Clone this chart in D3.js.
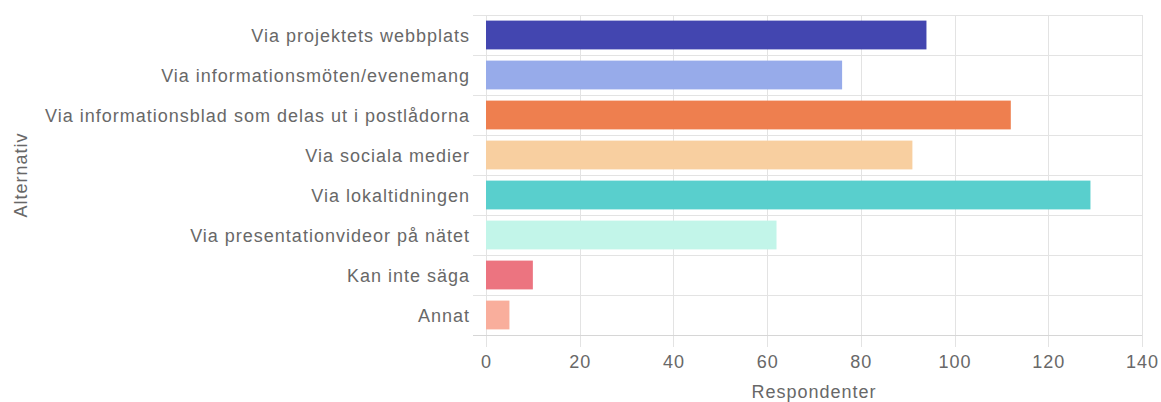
<!DOCTYPE html>
<html>
<head>
<meta charset="utf-8">
<script src="https://cdn.jsdelivr.net/npm/d3@7"></script>
<style>
  html, body { margin: 0; padding: 0; background: #fff; }
  svg { display: block; }
  text { font-family: "Liberation Sans", Arial, sans-serif; fill: #686868; font-size: 18px; letter-spacing: 1px; }
</style>
</head>
<body>
<svg id="chart" width="1161" height="402"></svg>
<script>
const categories = [
  "Via projektets webbplats",
  "Via informationsmöten/evenemang",
  "Via informationsblad som delas ut i postlådorna",
  "Via sociala medier",
  "Via lokaltidningen",
  "Via presentationvideor på nätet",
  "Kan inte säga",
  "Annat"
];
const values = [94, 76, 112, 91, 129, 62, 10, 5];
const colors = ["#4346B0", "#97ABEA", "#EE7F4F", "#F8CFA0", "#59CFCD", "#C2F5E9", "#EC7480", "#F9AE9C"];
const xTicks = [0, 20, 40, 60, 80, 100, 120, 140];
const xTitle = "Respondenter";
const yTitle = "Alternativ";

const svg = d3.select("#chart");
const plotLeft = 486, plotRight = 1142, plotTop = 15, plotBottom = 335;
const gridColor = "#e3e3e3";

const x = d3.scaleLinear().domain([0, 140]).range([plotLeft, plotRight]);
const band = d3.scaleBand().domain(categories).range([plotTop, plotBottom]).paddingInner(0).paddingOuter(0);
const barH = band.bandwidth() * 0.72;

// vertical grid lines at each x tick, running into the tick marks below the axis
svg.append("g").selectAll("line").data(xTicks).join("line")
  .attr("x1", d => Math.round(x(d)) + 0.5).attr("x2", d => Math.round(x(d)) + 0.5)
  .attr("y1", plotTop).attr("y2", plotBottom + 12)
  .attr("stroke", gridColor).attr("stroke-width", 1);

// horizontal grid lines at category boundaries, with tick stubs to the left
const bounds = categories.map(c => band(c)).concat([plotBottom]);
svg.append("g").selectAll("line").data(bounds).join("line")
  .attr("x1", plotLeft - 13).attr("x2", plotRight)
  .attr("y1", d => Math.round(d) + 0.5).attr("y2", d => Math.round(d) + 0.5)
  .attr("stroke", gridColor).attr("stroke-width", 1);

// bars
svg.append("g").selectAll("rect").data(categories).join("rect")
  .attr("x", x(0))
  .attr("y", c => band(c) + (band.bandwidth() - barH) / 2)
  .attr("width", (c, i) => x(values[i]) - x(0))
  .attr("height", barH)
  .attr("fill", (c, i) => colors[i]);

// bottom axis line
svg.append("line")
  .attr("x1", plotLeft - 13).attr("x2", plotRight)
  .attr("y1", plotBottom + 0.5).attr("y2", plotBottom + 0.5)
  .attr("stroke", "#d6d6d6");

// x tick labels
svg.append("g").selectAll("text").data(xTicks).join("text")
  .attr("x", d => x(d) + 0.5).attr("y", 368)
  .attr("text-anchor", "middle")
  .text(d => d);

// category labels
svg.append("g").selectAll("text").data(categories).join("text")
  .attr("x", plotLeft - 16)
  .attr("y", c => band(c) + band.bandwidth() / 2 + 6.5)
  .attr("text-anchor", "end")
  .text(c => c);

// axis titles
svg.append("text")
  .attr("x", (plotLeft + plotRight) / 2).attr("y", 398)
  .attr("text-anchor", "middle")
  .text(xTitle);

svg.append("text")
  .attr("transform", `translate(27, ${(plotTop + plotBottom) / 2}) rotate(-90)`)
  .attr("text-anchor", "middle")
  .text(yTitle);
</script>
</body>
</html>
